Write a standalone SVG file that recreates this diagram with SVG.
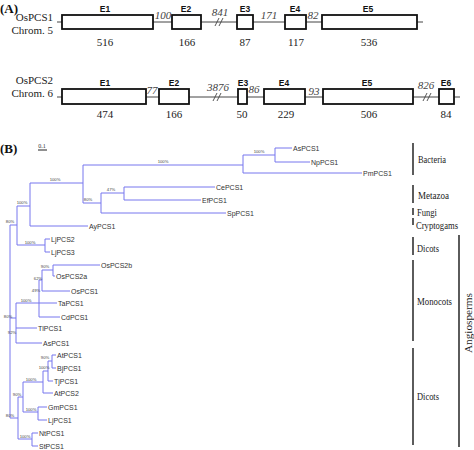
<svg xmlns="http://www.w3.org/2000/svg" width="474" height="450" viewBox="0 0 474 450">
<style>
.bg{fill:#fff}
.ex{fill:#fff;stroke:#111;stroke-width:1.8}
.ln{stroke:#444;stroke-width:1;fill:none}
.br{stroke:#444;stroke-width:0.9;fill:none}
.nm{font-family:"Liberation Serif",serif;font-size:11px;fill:#222}
.ttl{font-family:"Liberation Serif",serif;font-size:13px;font-weight:bold;fill:#111}
.el{font-family:"Liberation Sans",sans-serif;font-size:8.5px;font-weight:bold;fill:#111;text-anchor:middle}
.len{font-family:"Liberation Serif",serif;font-size:11px;fill:#222;text-anchor:middle}
.int{font-family:"Liberation Serif",serif;font-size:11px;font-style:italic;fill:#444;text-anchor:middle}
.tr{stroke:#7676ee;stroke-width:1;fill:none}
.lf{font-family:"Liberation Sans",sans-serif;font-size:7px;fill:#333}
.bs{font-family:"Liberation Sans",sans-serif;font-size:4.2px;fill:#444;text-anchor:middle}
.bar{stroke:#333;stroke-width:1.6}
.grp{font-family:"Liberation Serif",serif;font-size:11px;fill:#222}
</style>
<rect class="bg" width="474" height="450"/>
<text class="ttl" x="0" y="13">(A)</text>
<g id="gene1">
<text class="nm" x="53" y="21" text-anchor="end">OsPCS1</text>
<text class="nm" x="53" y="34" text-anchor="end">Chrom. 5</text>
<line class="ln" x1="57" y1="22" x2="423" y2="22"/>
<path class="br" d="M215,26 L219,18 M219,26 L223,18"/>
<rect class="ex" x="62" y="15" width="91" height="14"/>
<rect class="ex" x="172" y="15" width="29" height="14"/>
<rect class="ex" x="237" y="15" width="16" height="14"/>
<rect class="ex" x="285" y="15" width="21" height="14"/>
<rect class="ex" x="322" y="15" width="95" height="14"/>
<text class="el" x="105" y="12">E1</text>
<text class="el" x="186" y="12">E2</text>
<text class="el" x="245" y="12">E3</text>
<text class="el" x="295" y="12">E4</text>
<text class="el" x="368" y="12">E5</text>
<text class="int" x="163" y="19">100</text>
<text class="int" x="220" y="16">841</text>
<text class="int" x="269" y="19">171</text>
<text class="int" x="313" y="19">82</text>
<text class="len" x="105" y="46">516</text>
<text class="len" x="187" y="46">166</text>
<text class="len" x="245" y="46">87</text>
<text class="len" x="296" y="46">117</text>
<text class="len" x="369" y="46">536</text>
</g>
<g id="gene2">
<text class="nm" x="53" y="84" text-anchor="end">OsPCS2</text>
<text class="nm" x="53" y="97" text-anchor="end">Chrom. 6</text>
<line class="ln" x1="57" y1="97" x2="460" y2="97"/>
<path class="br" d="M213,101 L217,93 M217,101 L221,93"/>
<path class="br" d="M423,101 L427,93 M427,101 L431,93"/>
<rect class="ex" x="62" y="89" width="84" height="15"/>
<rect class="ex" x="159" y="89" width="30" height="15"/>
<rect class="ex" x="238" y="89" width="9" height="15"/>
<rect class="ex" x="264" y="89" width="41" height="15"/>
<rect class="ex" x="323" y="89" width="90" height="15"/>
<rect class="ex" x="439" y="89" width="15" height="15"/>
<text class="el" x="105" y="86">E1</text>
<text class="el" x="174" y="86">E2</text>
<text class="el" x="243" y="86">E3</text>
<text class="el" x="284" y="86">E4</text>
<text class="el" x="367" y="86">E5</text>
<text class="el" x="446" y="86">E6</text>
<text class="int" x="152" y="94">77</text>
<text class="int" x="218" y="91">3876</text>
<text class="int" x="254" y="93">86</text>
<text class="int" x="314" y="95">93</text>
<text class="int" x="426" y="89">826</text>
<text class="len" x="105" y="118">474</text>
<text class="len" x="174" y="118">166</text>
<text class="len" x="242" y="118">50</text>
<text class="len" x="286" y="118">229</text>
<text class="len" x="369" y="118">506</text>
<text class="len" x="446" y="118">84</text>
</g>
<text class="ttl" x="0" y="153">(B)</text>
<g id="scale">
<text x="42" y="148" text-anchor="middle" font-size="6" font-family="Liberation Serif, serif" fill="#333">0.1</text>
<line x1="38" y1="150" x2="47" y2="150" stroke="#222" stroke-width="1"/>
</g>
<g id="tree-connectors">
<path class="tr" d="M10,225 V418 M10,225 H17 M17,206 V245 M17,206 H30 M30,183 V226 M30,183 H83 M83,165 V203 M83,165 H243 M243,155 V173 M243,155 H275 M275,148 V162 M275,148 H292 M275,162 H310 M243,173 H362 M83,203 H101 M101,193 V213 M101,193 H124 M124,187 V200 M124,187 H215 M124,200 H201 M101,213 H226 M30,226 H88 M17,245 H45 M45,239 V252 M45,239 H50 M45,252 H50"/>
<path class="tr" d="M10,318 H16 M16,303 V343 M16,303 H39 M39,280 V317 M39,280 H42 M42,270 V291 M42,270 H53 M53,265 V276 M53,265 H100 M53,276 H55 M42,291 H70 M39,303 H57 M39,317 H60 M16,328 H37 M16,343 H42"/>
<path class="tr" d="M10,418 H18 M18,397 V439 M18,397 H23 M23,382 V412 M23,382 H43 M43,371 V393 M43,371 H48 M48,361 V381 M48,361 H52 M52,355 V368 M52,355 H56 M52,368 H56 M48,381 H53 M43,393 H53 M23,412 H38 M38,407 V420 M38,407 H47 M38,420 H47 M18,439 H32 M32,433 V446 M32,433 H38 M32,446 H38"/>
</g>
<g id="leaves">
<text class="lf" x="293" y="150.5">AsPCS1</text>
<text class="lf" x="311" y="164.5">NpPCS1</text>
<text class="lf" x="363" y="175.5">PmPCS1</text>
<text class="lf" x="216" y="189.5">CePCS1</text>
<text class="lf" x="202" y="202.5">EfPCS1</text>
<text class="lf" x="227" y="215.5">SpPCS1</text>
<text class="lf" x="89" y="228.5">AyPCS1</text>
<text class="lf" x="51" y="241.5">LjPCS2</text>
<text class="lf" x="51" y="254.5">LjPCS3</text>
<text class="lf" x="101" y="267.5">OsPCS2b</text>
<text class="lf" x="56" y="278.5">OsPCS2a</text>
<text class="lf" x="71" y="293.5">OsPCS1</text>
<text class="lf" x="58" y="305.5">TaPCS1</text>
<text class="lf" x="61" y="319.5">CdPCS1</text>
<text class="lf" x="38" y="330.5">TlPCS1</text>
<text class="lf" x="43" y="345.5">AsPCS1</text>
<text class="lf" x="57" y="357.5">AtPCS1</text>
<text class="lf" x="57" y="370.5">BjPCS1</text>
<text class="lf" x="54" y="383.5">TjPCS1</text>
<text class="lf" x="54" y="395.5">AtPCS2</text>
<text class="lf" x="48" y="409.5">GmPCS1</text>
<text class="lf" x="48" y="422.5">LjPCS1</text>
<text class="lf" x="39" y="435.5">NtPCS1</text>
<text class="lf" x="39" y="448.5">StPCS1</text>
</g>
<g id="support">
<text class="bs" x="163" y="163">100%</text>
<text class="bs" x="259" y="153">100%</text>
<text class="bs" x="55" y="181">100%</text>
<text class="bs" x="88" y="201">80%</text>
<text class="bs" x="111" y="191">47%</text>
<text class="bs" x="22" y="204">100%</text>
<text class="bs" x="10" y="223">80%</text>
<text class="bs" x="30" y="244">100%</text>
<text class="bs" x="45" y="268">90%</text>
<text class="bs" x="38" y="280">62%</text>
<text class="bs" x="36" y="292">49%</text>
<text class="bs" x="26" y="302">100%</text>
<text class="bs" x="8" y="318">80%</text>
<text class="bs" x="12" y="334">92%</text>
<text class="bs" x="45" y="359">90%</text>
<text class="bs" x="44" y="369">100%</text>
<text class="bs" x="31" y="381">100%</text>
<text class="bs" x="17" y="396">90%</text>
<text class="bs" x="31" y="411">100%</text>
<text class="bs" x="10" y="417">80%</text>
<text class="bs" x="25" y="438">100%</text>
</g>
<g id="groups">
<line class="bar" x1="413" y1="143" x2="413" y2="175"/>
<text class="grp" x="418" y="163" textLength="28" lengthAdjust="spacingAndGlyphs">Bacteria</text>
<line class="bar" x1="413" y1="185" x2="413" y2="203"/>
<text class="grp" x="418" y="199" textLength="31" lengthAdjust="spacingAndGlyphs">Metazoa</text>
<line class="bar" x1="413" y1="208" x2="413" y2="215"/>
<text class="grp" x="417" y="216" textLength="20" lengthAdjust="spacingAndGlyphs">Fungi</text>
<line class="bar" x1="413" y1="218" x2="413" y2="225"/>
<text class="grp" x="416" y="229" textLength="42" lengthAdjust="spacingAndGlyphs">Cryptogams</text>
<line class="bar" x1="413" y1="237" x2="413" y2="255"/>
<text class="grp" x="417" y="252" textLength="22" lengthAdjust="spacingAndGlyphs">Dicots</text>
<line class="bar" x1="413" y1="260" x2="413" y2="341"/>
<text class="grp" x="417" y="305" textLength="35" lengthAdjust="spacingAndGlyphs">Monocots</text>
<line class="bar" x1="413" y1="348" x2="413" y2="445"/>
<text class="grp" x="417" y="400" textLength="22" lengthAdjust="spacingAndGlyphs">Dicots</text>
<line class="bar" x1="459" y1="235" x2="459" y2="447"/>
<text class="grp" x="0" y="0" font-size="13" text-anchor="middle" textLength="60" lengthAdjust="spacingAndGlyphs" transform="translate(472,323) rotate(-90)">Angiosperms</text>
</g>
</svg>
